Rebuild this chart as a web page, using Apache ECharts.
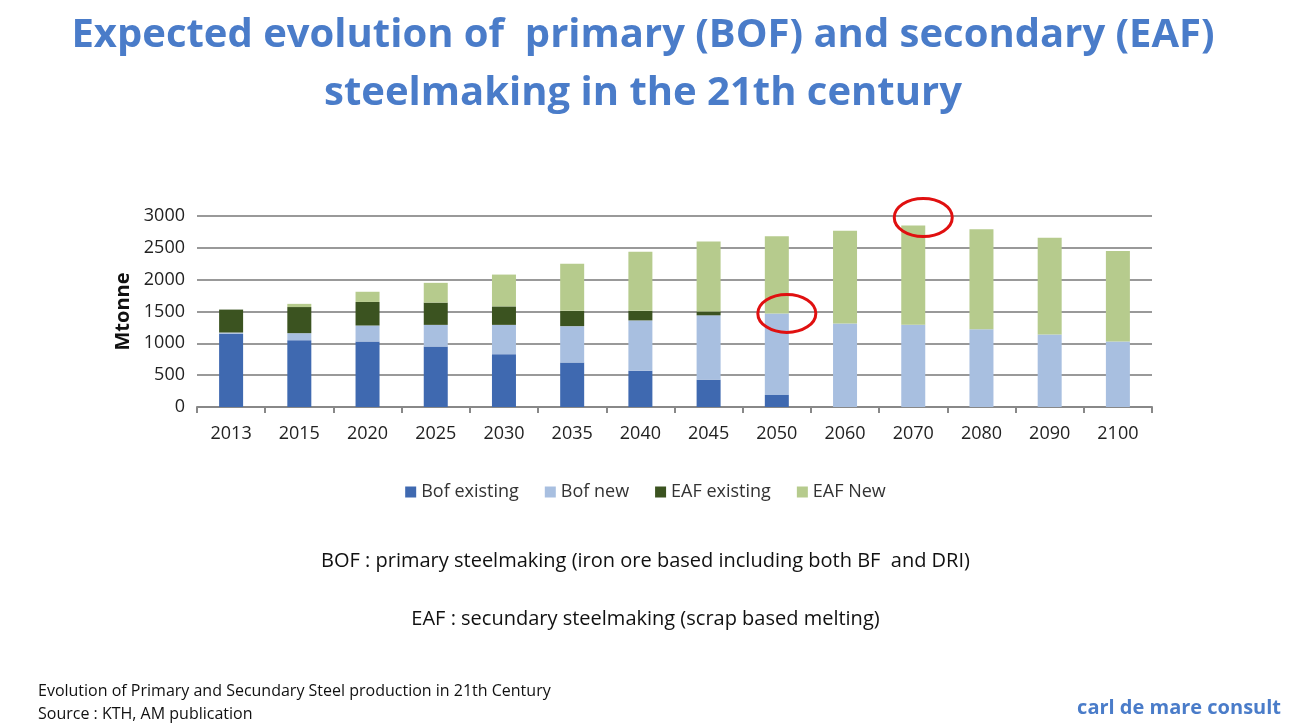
<!DOCTYPE html><html><head><meta charset="utf-8"><script src="https://cdn.jsdelivr.net/npm/echarts@6/dist/echarts.min.js"></script>
<style>body{margin:0;background:#fff}#c{width:1291px;height:728px}</style></head><body><div id="c"></div><script>
const categories=['2013','2015','2020','2025','2030','2035','2040','2045','2050','2060','2070','2080','2090','2100'];
const bofExisting=[1150,1050,1030,950,830,700,570,430,190,0,0,0,0,0];
const bofNew=[20,110,250,340,460,570,790,1010,1280,1310,1290,1220,1140,1030];
const eafExisting=[360,410,370,350,290,240,150,60,0,0,0,0,0,0];
const eafNew=[0,50,160,310,500,740,930,1100,1210,1460,1560,1570,1520,1420];
const yTicks=[0,500,1000,1500,2000,2500,3000];
const ch=echarts.init(document.getElementById('c'));
const F='"Open Sans", "Noto Sans", sans-serif';
function s(name,data,color){return {name,type:'bar',stack:'t',data,barWidth:24,itemStyle:{color},emphasis:{disabled:true}};}
ch.setOption({
animation:false,
textStyle:{fontFamily:F},
title:[{text:'Expected evolution of  primary (BOF) and secondary (EAF)\nsteelmaking in the 21th century',left:638,top:2,textAlign:'center',textStyle:{fontSize:40,fontWeight:'bold',color:'#4A7CC9',lineHeight:58,fontFamily:F}}],
graphic:[
{id:'t1',type:'text',left:'center',top:551,style:{text:'BOF : primary steelmaking (iron ore based including both BF  and DRI)',font:'20px "Open Sans"',fill:'#111'}},
{id:'t2',type:'text',left:'center',top:609,style:{text:'EAF : secundary steelmaking (scrap based melting)',font:'20px "Open Sans"',fill:'#111'}},
{id:'t3',type:'text',left:38,top:680,style:{text:'Evolution of Primary and Secundary Steel production in 21th Century\nSource : KTH, AM publication',font:'16px "Open Sans"',lineHeight:23,fill:'#111'}},
{id:'t4',type:'text',right:10,top:698,style:{text:'carl de mare consult',font:'bold 20px "Open Sans"',fill:'#4A7CC9'}}
],
legend:{top:478,left:'center',itemWidth:11,itemHeight:11,itemGap:26,icon:'rect',textStyle:{fontSize:18,color:'#333'},data:['Bof existing','Bof new','EAF existing','EAF New']},
grid:{left:197,right:139,top:216,bottom:321},
xAxis:{type:'category',data:categories,axisLine:{lineStyle:{color:'#888',width:2}},axisTick:{show:true,length:6,lineStyle:{color:'#888',width:2}},axisLabel:{fontSize:18,color:'#222',margin:18}},
yAxis:{type:'value',min:0,max:3000,interval:500,name:'Mtonne',nameLocation:'middle',nameGap:52,nameTextStyle:{fontSize:20,fontWeight:'bold',color:'#111'},axisLine:{show:false},axisLabel:{fontSize:18,color:'#222',margin:12,formatter:v=>String(v)},splitLine:{lineStyle:{color:'#999',width:2}}},
series:[s('Bof existing',bofExisting,'#3F69B0'),s('Bof new',bofNew,'#A8BFE0'),s('EAF existing',eafExisting,'#3B5320'),s('EAF New',eafNew,'#B6CB8D')]
});
const p1=ch.convertToPixel({xAxisIndex:0,yAxisIndex:0},['2050',1470]);
const p2=ch.convertToPixel({xAxisIndex:0,yAxisIndex:0},['2070',2850]);
ch.setOption({graphic:[{id:'e1',type:'ellipse',shape:{cx:p1[0]+10,cy:p1[1],rx:29,ry:19},style:{fill:'none',stroke:'#E01010',lineWidth:3},z:10},{id:'e2',type:'ellipse',shape:{cx:p2[0]+10,cy:p2[1]-8,rx:29,ry:19},style:{fill:'none',stroke:'#E01010',lineWidth:3},z:10}]});
</script></body></html>
